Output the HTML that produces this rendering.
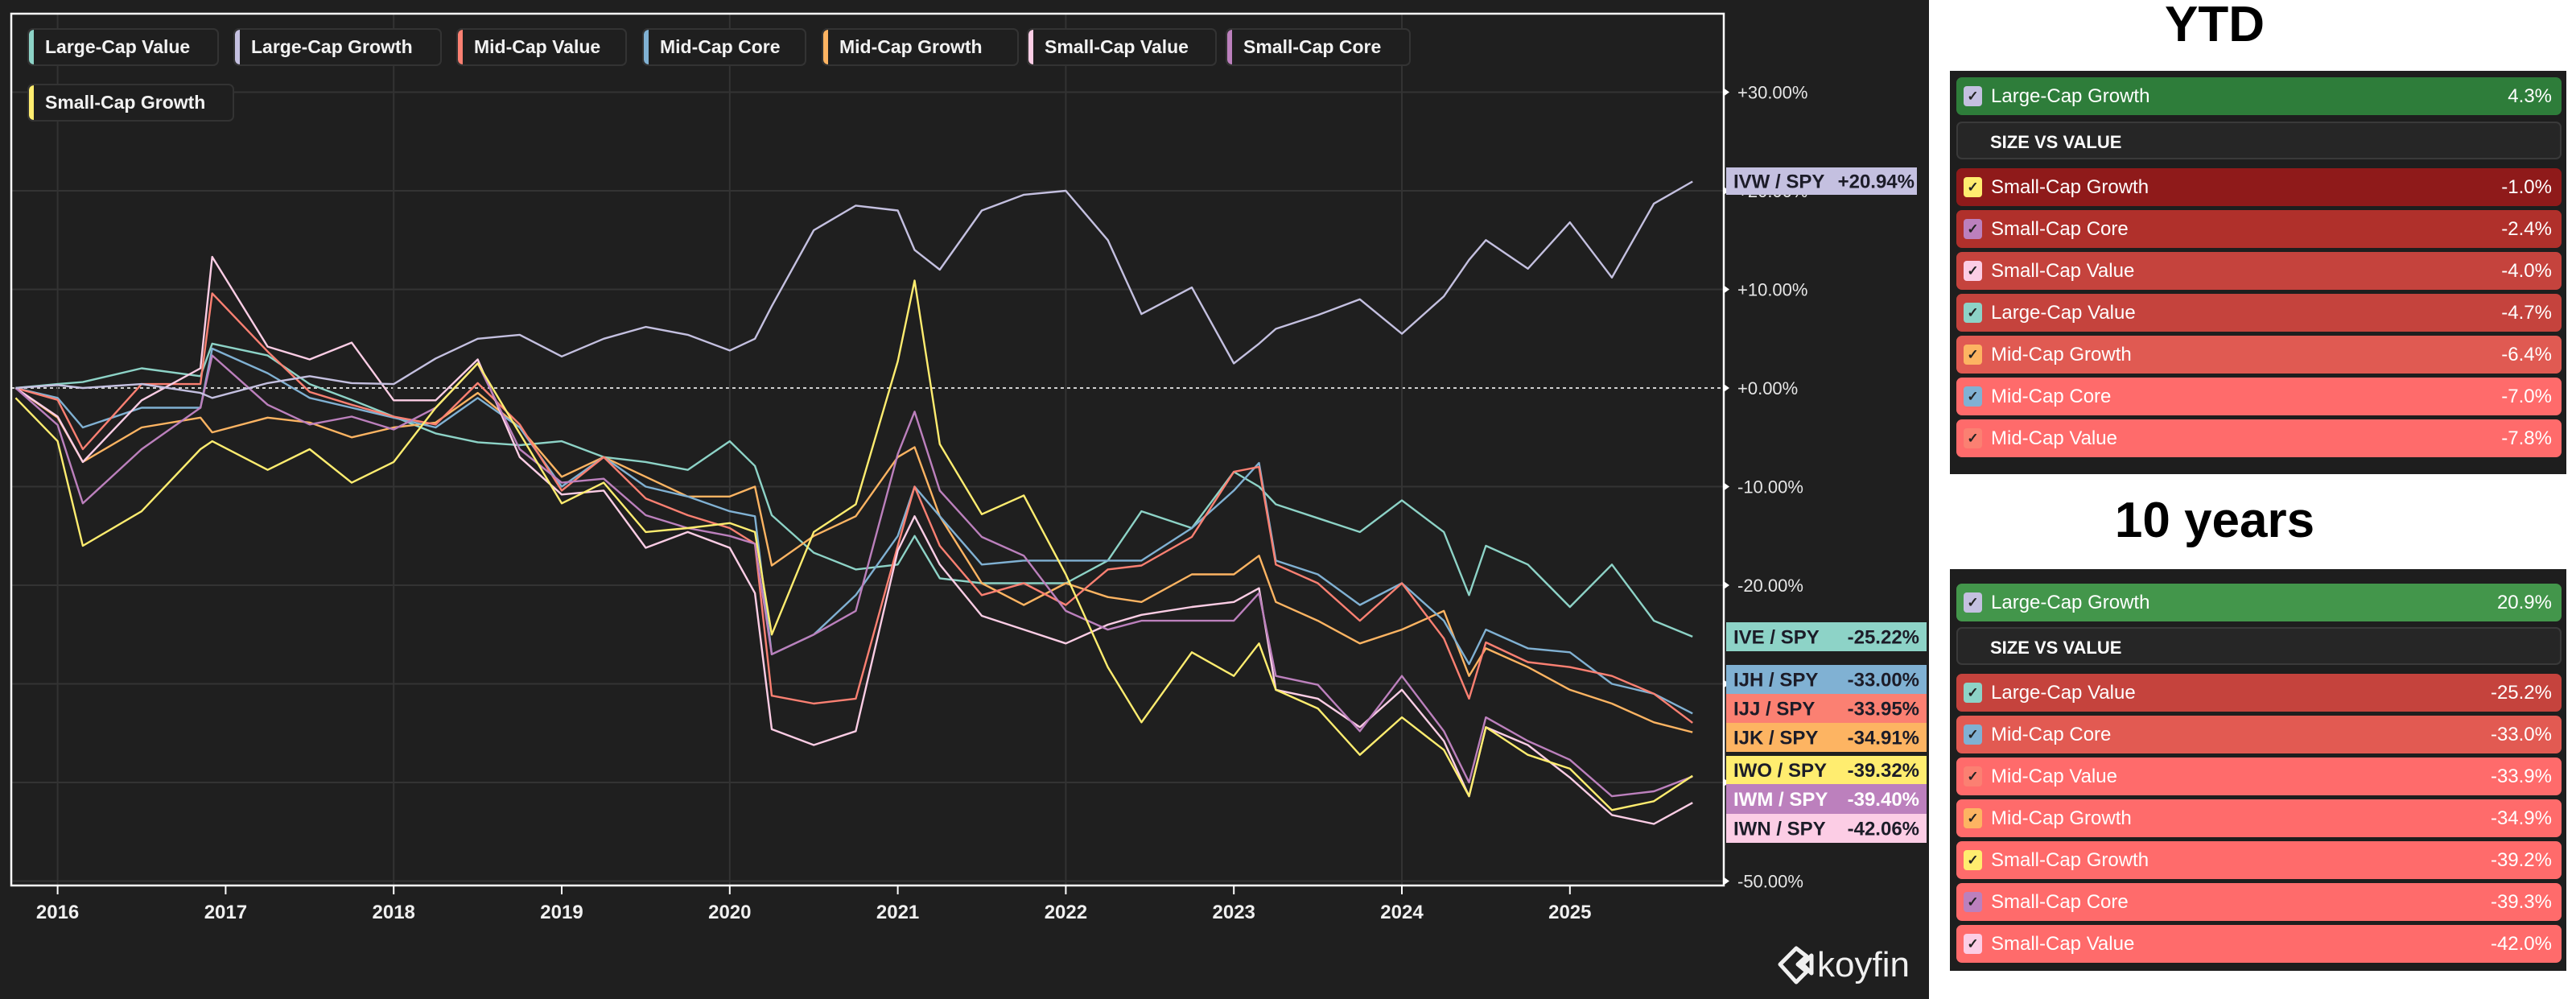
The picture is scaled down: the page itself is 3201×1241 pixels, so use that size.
<!DOCTYPE html>
<html><head><meta charset="utf-8"><style>
body{margin:0;width:3201px;height:1241px;overflow:hidden;background:#fff;font-family:"Liberation Sans",sans-serif;position:relative}
#left{position:absolute;left:0;top:0;width:2397px;height:1241px;background:#1f1f1f}
.chip{position:absolute;height:47px;border:2px solid #333;border-radius:7px;background:#1f1f1f;box-sizing:border-box;color:#f2f2f2;font-weight:bold;font-size:23px;line-height:43px;padding-left:20px;white-space:nowrap;overflow:hidden}
.chip i{position:absolute;left:0;top:0;bottom:0;width:6px;border-radius:6px 0 0 6px}
.title{position:absolute;font-weight:bold;color:#000;text-align:center;width:800px;left:2352px}
.panel{position:absolute;left:2423px;width:766px;background:#1e1e1e}
.row{position:absolute;left:8px;width:752px;height:47px;border-radius:7px;box-sizing:border-box;color:#fff;font-size:24px;line-height:47px}
.row .cb{position:absolute;left:9px;top:11px;width:23px;height:25px;border-radius:4px;color:#222;font-size:17px;line-height:25px;text-align:center;font-weight:bold}
.row .lb{position:absolute;left:43px}
.row .vl{position:absolute;right:12px}
.hdr{background:#262626;border:2px solid #3a3a3a;font-weight:bold;font-size:22px}
.hdr .lb{left:40px}
</style></head><body>
<div id="left"></div>
<svg id="chart" width="3201" height="1241" style="position:absolute;left:0;top:0"></svg>

<div class="chip" style="left:34px;top:35px;width:238px"><i style="background:#8dd3c7"></i>Large-Cap Value</div>
<div class="chip" style="left:290px;top:35px;width:259px"><i style="background:#c4c0e0"></i>Large-Cap Growth</div>
<div class="chip" style="left:567px;top:35px;width:212px"><i style="background:#fb8072"></i>Mid-Cap Value</div>
<div class="chip" style="left:798px;top:35px;width:204px"><i style="background:#80b1d3"></i>Mid-Cap Core</div>
<div class="chip" style="left:1021px;top:35px;width:245px"><i style="background:#fdb462"></i>Mid-Cap Growth</div>
<div class="chip" style="left:1276px;top:35px;width:236px"><i style="background:#fccde5"></i>Small-Cap Value</div>
<div class="chip" style="left:1523px;top:35px;width:230px"><i style="background:#bc80bd"></i>Small-Cap Core</div>
<div class="chip" style="left:34px;top:104px;width:257px"><i style="background:#ffed6f"></i>Small-Cap Growth</div>

<div class="title" style="top:0px;font-size:62px;line-height:62px">YTD</div>
<div class="panel" style="top:88px;height:501px">
 <div class="row" style="top:8px;background:#2e7d3a"><span class="cb" style="background:#c4c0e0">✓</span><span class="lb">Large-Cap Growth</span><span class="vl">4.3%</span></div>
 <div class="row hdr" style="top:63px"><span class="lb">SIZE VS VALUE</span></div>
 <div class="row" style="top:121px;background:#8f1a1a"><span class="cb" style="background:#ffed6f">✓</span><span class="lb">Small-Cap Growth</span><span class="vl">-1.0%</span></div>
 <div class="row" style="top:173px;background:#b0302b"><span class="cb" style="background:#bc80bd">✓</span><span class="lb">Small-Cap Core</span><span class="vl">-2.4%</span></div>
 <div class="row" style="top:225px;background:#c5433d"><span class="cb" style="background:#fccde5">✓</span><span class="lb">Small-Cap Value</span><span class="vl">-4.0%</span></div>
 <div class="row" style="top:277px;background:#c5433d"><span class="cb" style="background:#8dd3c7">✓</span><span class="lb">Large-Cap Value</span><span class="vl">-4.7%</span></div>
 <div class="row" style="top:329px;background:#e05a52"><span class="cb" style="background:#fdb462">✓</span><span class="lb">Mid-Cap Growth</span><span class="vl">-6.4%</span></div>
 <div class="row" style="top:381px;background:#ff6b6b"><span class="cb" style="background:#80b1d3">✓</span><span class="lb">Mid-Cap Core</span><span class="vl">-7.0%</span></div>
 <div class="row" style="top:433px;background:#ff6b6b"><span class="cb" style="background:#fb8072">✓</span><span class="lb">Mid-Cap Value</span><span class="vl">-7.8%</span></div>
</div>

<div class="title" style="top:616px;font-size:62px;line-height:62px">10 years</div>
<div class="panel" style="top:707px;height:499px">
 <div class="row" style="top:18px;background:#43964b"><span class="cb" style="background:#c4c0e0">✓</span><span class="lb">Large-Cap Growth</span><span class="vl">20.9%</span></div>
 <div class="row hdr" style="top:72px"><span class="lb">SIZE VS VALUE</span></div>
 <div class="row" style="top:130px;background:#c5433d"><span class="cb" style="background:#8dd3c7">✓</span><span class="lb">Large-Cap Value</span><span class="vl">-25.2%</span></div>
 <div class="row" style="top:182px;background:#e25a52"><span class="cb" style="background:#80b1d3">✓</span><span class="lb">Mid-Cap Core</span><span class="vl">-33.0%</span></div>
 <div class="row" style="top:234px;background:#ff6b6b"><span class="cb" style="background:#fb8072">✓</span><span class="lb">Mid-Cap Value</span><span class="vl">-33.9%</span></div>
 <div class="row" style="top:286px;background:#ff6b6b"><span class="cb" style="background:#fdb462">✓</span><span class="lb">Mid-Cap Growth</span><span class="vl">-34.9%</span></div>
 <div class="row" style="top:338px;background:#ff6b6b"><span class="cb" style="background:#ffed6f">✓</span><span class="lb">Small-Cap Growth</span><span class="vl">-39.2%</span></div>
 <div class="row" style="top:390px;background:#ff6b6b"><span class="cb" style="background:#bc80bd">✓</span><span class="lb">Small-Cap Core</span><span class="vl">-39.3%</span></div>
 <div class="row" style="top:442px;background:#ff6b6b"><span class="cb" style="background:#fccde5">✓</span><span class="lb">Small-Cap Value</span><span class="vl">-42.0%</span></div>
</div>

<script>
const dates=[2015.75,2016.0,2016.15,2016.5,2016.85,2016.92,2017.25,2017.5,2017.75,2018.0,2018.25,2018.5,2018.75,2019.0,2019.25,2019.5,2019.75,2020.0,2020.15,2020.25,2020.5,2020.75,2021.0,2021.1,2021.25,2021.5,2021.75,2022.0,2022.25,2022.45,2022.75,2023.0,2023.15,2023.25,2023.5,2023.75,2024.0,2024.25,2024.4,2024.5,2024.75,2025.0,2025.25,2025.5,2025.73];
const largeCapGrowth=[0,0.3,0,0.4,-0.5,-1,0.5,1.2,0.5,0.4,3,5,5.4,3.2,5,6.2,5.4,3.8,5,8.3,16,18.5,18,14,12,18,19.6,20,15,7.5,10.2,2.5,4.5,6,7.4,9,5.5,9.3,13,15,12.1,16.8,11.2,18.7,20.94];
const largeCapValue=[0,0.4,0.6,2,1.2,4.5,3.3,0.4,-1.2,-2.9,-4.6,-5.5,-5.8,-5.4,-7,-7.5,-8.3,-5.4,-7.9,-12.9,-16.7,-18.4,-17.9,-15,-19.3,-19.8,-19.8,-19.8,-17.5,-12.5,-14.2,-8.5,-10,-11.8,-13.2,-14.6,-11.4,-14.6,-21,-16,-17.9,-22.2,-17.9,-23.6,-25.22];
const midCapValue=[0,-1.2,-6.2,0.4,0.4,9.6,3.7,-0.4,-1.7,-2.9,-3.7,0.5,-3.7,-10.4,-7,-11.2,-12.9,-14.2,-15.8,-31.2,-32,-31.5,-16,-10,-16,-21,-19.8,-22,-18.4,-18,-15.1,-8.5,-8,-17.9,-19.8,-23.6,-19.8,-25.4,-31.5,-25.8,-27.8,-28.3,-29.2,-31,-33.95];
const midCapCore=[0,-1,-4,-2,-2,4,1.5,-1,-2,-3,-4,-1,-4,-10,-7,-10,-11,-12.5,-13,-27,-25,-21,-15,-10,-13,-17.9,-17.5,-17.5,-17.5,-17.5,-14.2,-10.4,-7.6,-17.5,-18.9,-22,-19.8,-23.6,-28,-24.5,-26.4,-26.8,-30,-31,-33.0];
const midCapGrowth=[0,-3,-7.5,-4,-3,-4.5,-3,-3.5,-5,-4,-3.5,-0.5,-4,-9,-7,-9,-11,-11,-10,-18,-15,-13,-7,-6,-13,-19.8,-22,-19.8,-21.2,-21.7,-18.9,-18.9,-17,-21.7,-23.6,-25.9,-24.5,-22.6,-29.2,-26.4,-28.3,-30.6,-32,-33.9,-34.91];
const smallCapGrowth=[-1,-5.4,-16,-12.5,-6.2,-5.4,-8.3,-6.2,-9.6,-7.5,-2,2.5,-4.6,-11.7,-9.6,-14.6,-14.2,-13.7,-14.6,-25,-14.6,-11.8,2.7,10.9,-5.7,-12.8,-10.9,-18.9,-28.3,-33.9,-26.8,-29.2,-25.9,-30.6,-32.5,-37.2,-33.4,-36.7,-41.4,-34.4,-37.2,-38.6,-42.8,-41.9,-39.32];
const smallCapCore=[0,-3.75,-11.7,-6.2,-2,3.3,-1.7,-3.7,-2.9,-4.2,-2,2.5,-6.2,-9.6,-9.2,-12.9,-14.2,-15,-15.8,-27,-25,-22.6,-6.7,-2.4,-10.4,-15.1,-17,-22.6,-24.5,-23.6,-23.6,-23.6,-20.8,-29.2,-30.1,-34.8,-29.2,-34.8,-40,-33.4,-35.8,-37.7,-41.4,-40.9,-39.4];
const smallCapValue=[0,-2.9,-7.5,-1.25,2,13.3,4.2,2.9,4.6,-1.25,-1.25,2.9,-7,-10.8,-10.4,-16.2,-14.6,-16.2,-20.8,-34.6,-36.2,-34.8,-16.5,-13,-17.9,-23.1,-24.5,-25.9,-24,-23,-22.2,-21.7,-20.3,-30.6,-31.5,-34.4,-30.6,-35.8,-41.4,-34.4,-36.2,-39.5,-43.3,-44.2,-42.06];
const yearTicks=[2016,2017,2018,2019,2020,2021,2022,2023,2024,2025];
const yTicks=[30,20,10,0,-10,-20,-30,-40,-50];
const badgeTickers=["IVW / SPY","IVE / SPY","IJH / SPY","IJJ / SPY","IJK / SPY","IWO / SPY","IWM / SPY","IWN / SPY"];
const badgeValues=["+20.94%","-25.22%","-33.00%","-33.95%","-34.91%","-39.32%","-39.40%","-42.06%"];

const NS="http://www.w3.org/2000/svg";
const svg=document.getElementById('chart');
const PL=14,PT=17,PR=2142,PB=1100;
function xOf(t){return 71.6+(t-2016)*208.8;}
function yOf(v){return 482-v*12.25;}
function mk(tag,attrs,parent){const e=document.createElementNS(NS,tag);for(const k in attrs)e.setAttribute(k,attrs[k]);(parent||svg).appendChild(e);return e;}

const defs=mk('defs',{});
const cp=mk('clipPath',{id:'plotclip'},defs);
mk('rect',{x:PL,y:PT,width:PR-PL,height:PB-PT},cp);

yTicks.forEach(v=>{
  const l=mk('line',{x1:PL,x2:PR,y1:yOf(v),y2:yOf(v),stroke:v===0?'#cfcfcf':'#333','stroke-width':2,'stroke-dasharray':v===0?'4 4':'none'});
  
  
});
yearTicks.forEach((t,i)=>{
  if(i%2===0){
    const g=mk('line',{x1:xOf(t),x2:xOf(t),y1:PT,y2:PB,stroke:'#333','stroke-width':2});
    
    
  }
  const tk=mk('line',{x1:xOf(t),x2:xOf(t),y1:PB,y2:PB+11,stroke:'#fff','stroke-width':2});
  
  
  const tx=mk('text',{x:xOf(t),y:1141,fill:'#f0f0f0','font-size':24,'font-weight':'bold','text-anchor':'middle','font-family':'Liberation Sans, sans-serif'});
  tx.textContent=t;
  
  
});

const series=[
 [largeCapValue,'#8dd3c7','line-large-cap-value'],
 [midCapGrowth,'#fdb462','line-mid-cap-growth'],
 [midCapCore,'#80b1d3','line-mid-cap-core'],
 [midCapValue,'#fb8072','line-mid-cap-value'],
 [smallCapValue,'#fccde5','line-small-cap-value'],
 [smallCapCore,'#bc80bd','line-small-cap-core'],
 [smallCapGrowth,'#ffed6f','line-small-cap-growth'],
 [largeCapGrowth,'#c4c0e0','line-large-cap-growth']
];
const g=mk('g',{'clip-path':'url(#plotclip)'});
series.forEach(s=>{
  const d=s[0].map((v,i)=>(i?'L':'M')+xOf(dates[i]).toFixed(1)+' '+yOf(v).toFixed(1)).join(' ');
  const p=mk('path',{d:d,fill:'none',stroke:s[1],'stroke-width':2.4,'stroke-linejoin':'round'},g);
  
  
});

const fr=mk('rect',{x:PL,y:PT,width:PR-PL,height:PB-PT,fill:'none',stroke:'#fff','stroke-width':2.5});



yTicks.forEach(v=>{
  const y=yOf(v);
  const a=mk('path',{d:`M${PR} ${y-5} L${PR+7} ${y} L${PR} ${y+5} Z`,fill:'#fff'});
  
  
  const t=mk('text',{x:2159,y:y+8,fill:'#e6e6e6','font-size':22,'font-family':'Liberation Sans, sans-serif'});
  t.textContent=(v>=0?'+':'')+v.toFixed(2)+'%';
  
  
});

const badgeColors=['#c4c0e0','#8dd3c7','#80b1d3','#fb8072','#fdb462','#ffed6f','#bc80bd','#fccde5'];
const badgeTops=[208,773,826,862,898,939,974,1011];
const badgeH=[34,36,36,36,36,35,37,36];
badgeTickers.forEach((tk,i)=>{
  const r=mk('rect',{x:2145,y:badgeTops[i],width:i===0?237:249,height:badgeH[i],fill:badgeColors[i]});
  
  
  const cy=badgeTops[i]+badgeH[i]/2+8.5;
  const t1=mk('text',{x:2154,y:cy,fill:i===6?'#fff':'#1c1c28','font-size':24,'font-weight':'bold','font-family':'Liberation Sans, sans-serif'});
  t1.textContent=tk;
  
  
  const t2=mk('text',{x:i===0?2379:2385,y:cy,fill:i===6?'#fff':'#1c1c28','font-size':24,'font-weight':'bold','text-anchor':'end','font-family':'Liberation Sans, sans-serif'});
  t2.textContent=badgeValues[i];
  
  
});

const lg=mk('g',{});


mk('path',{d:'M2232 1178 L2212 1198 L2232 1220 L2245 1207 L2234 1198 L2245 1188 Z M2240 1198 L2251 1187 L2251 1209 Z',fill:'none',stroke:'#f0f0f0','stroke-width':5,'stroke-linejoin':'round'},lg);
const lt=mk('text',{x:2258,y:1213,fill:'#f0f0f0','font-size':44,'font-family':'Liberation Sans, sans-serif'},lg);
lt.textContent='koyfin';
</script>
</body></html>
